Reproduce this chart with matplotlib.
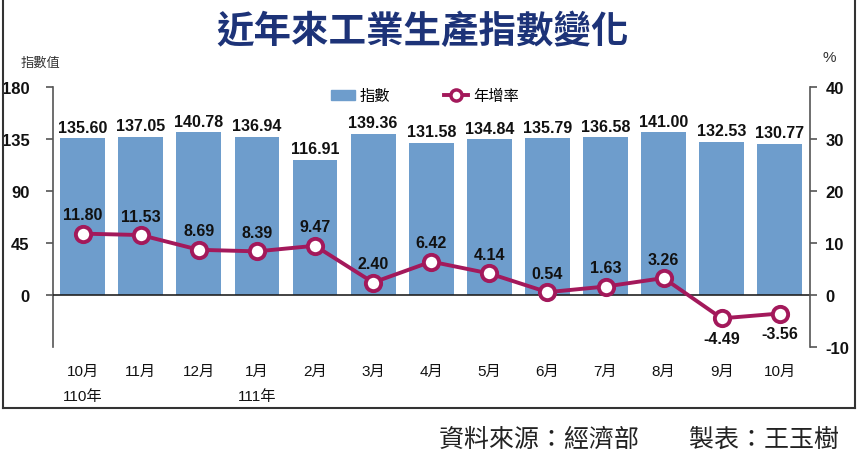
import matplotlib.pyplot as plt
from matplotlib.patches import Rectangle
from matplotlib.lines import Line2D
import numpy as np

plt.rcParams['font.family'] = ['Liberation Sans', 'Noto Sans CJK TC']

# data
months = ['10月', '11月', '12月', '1月', '2月', '3月', '4月', '5月', '6月', '7月', '8月', '9月', '10月']
index_vals = [135.60, 137.05, 140.78, 136.94, 116.91, 139.36, 131.58, 134.84, 135.79, 136.58, 141.00, 132.53, 130.77]
yoy_rate = [11.80, 11.53, 8.69, 8.39, 9.47, 2.40, 6.42, 4.14, 0.54, 1.63, 3.26, -4.49, -3.56]
year_marks = {0: '110年', 3: '111年'}

bar_color = '#6e9dcc'
line_color = '#a3195b'
axis_gray = '#555555'

fig = plt.figure(figsize=(8.58, 4.52), dpi=100)
ax = fig.add_axes([0.0618, 0.2301, 0.8823, 0.5752])
ax2 = ax.twinx()

x = np.arange(len(months))
ax.bar(x, index_vals, width=0.77, color=bar_color, zorder=2)
ax.set_xlim(-0.51, 12.52)
ax.set_ylim(-45, 180)
ax.set_yticks([0, 45, 90, 135, 180])
ax.axhline(0, color='#222222', lw=1.2, zorder=3)

for xi, v in zip(x, index_vals):
    ax.text(xi, v + 3, f'{v:.2f}', ha='center', va='bottom', fontsize=11.5,
            fontweight='bold', color='#111111')

ax2.set_ylim(-10, 40)
ax2.set_yticks([-10, 0, 10, 20, 30, 40])
ax2.plot(x, yoy_rate, color=line_color, lw=2.8, marker='o', ms=11,
         mfc='white', mec=line_color, mew=2.8, zorder=5)
for xi, v in zip(x, yoy_rate):
    if v >= 0:
        ax2.text(xi, v + 2.2, f'{v:.2f}', ha='center', va='bottom', fontsize=11.5,
                 fontweight='bold', color='#111111')
    else:
        ax2.text(xi, v - 2.4, f'{v:.2f}', ha='center', va='top', fontsize=11.5,
                 fontweight='bold', color='#111111')

# axes styling
for a in (ax, ax2):
    for s in ('top', 'bottom'):
        a.spines[s].set_visible(False)
    a.tick_params(axis='y', labelsize=12, width=1.2, length=5, colors=axis_gray,
                  labelcolor='#111111')
ax.spines['left'].set_color(axis_gray)
ax.spines['right'].set_visible(False)
ax2.spines['right'].set_color(axis_gray)
ax2.spines['left'].set_visible(False)
ax.spines['left'].set_linewidth(1.2)
ax2.spines['right'].set_linewidth(1.2)
ax.set_yticklabels(['0', '45', '90', '135', '180'], fontweight='bold')
ax2.set_yticklabels(['-10', '0', '10', '20', '30', '40'], fontweight='bold')
ax.yaxis.set_tick_params(pad=12)
ax2.yaxis.set_tick_params(pad=6)

ax.set_xticks(x)
ax.set_xticklabels([])
ax.tick_params(axis='x', length=0)
for xi, m in zip(x, months):
    ax.text(xi, -60, m, ha='center', va='top', fontsize=11, color='#111111')
for xi, y in year_marks.items():
    ax.text(xi, -81, y, ha='center', va='top', fontsize=11, color='#111111')

# legend
handles = [Rectangle((0, 0), 1, 1, color=bar_color),
           Line2D([0], [0], color=line_color, lw=2.8, marker='o', ms=8,
                  mfc='white', mec=line_color, mew=2.5)]
fig.legend(handles, ['指數', '年增率'], loc='center', bbox_to_anchor=(0.495, 0.785),
           ncol=2, frameon=False, fontsize=11, handlelength=1.6, columnspacing=3.5,
           handletextpad=0.3)

# titles and labels
fig.text(0.493, 0.93, '近年來工業生產指數變化', ha='center', va='center', fontsize=27,
         fontweight='bold', color='#1d3378', family=['Noto Sans CJK TC'])
fig.text(0.024, 0.858, '指數值', ha='left', va='center', fontsize=9.5, color='#333333')
fig.text(0.967, 0.872, '%', ha='center', va='center', fontsize=11, color='#333333')
fig.text(0.978, 0.028, '資料來源：經濟部　　製表：王玉樹', ha='right', va='center',
         fontsize=18, fontweight='light', color='#222222', family=['Noto Sans CJK TC'])

# frame around chart (left, bottom, right)
frame_y = 0.095
for xs, ys in [([0.004, 0.004], [frame_y, 1.0]),
               ([0.004, 0.996], [frame_y, frame_y]),
               ([0.996, 0.996], [frame_y, 1.0])]:
    fig.add_artist(Line2D(xs, ys, transform=fig.transFigure, color='#333333', lw=1.5))

fig.savefig('out.png', dpi=100)
